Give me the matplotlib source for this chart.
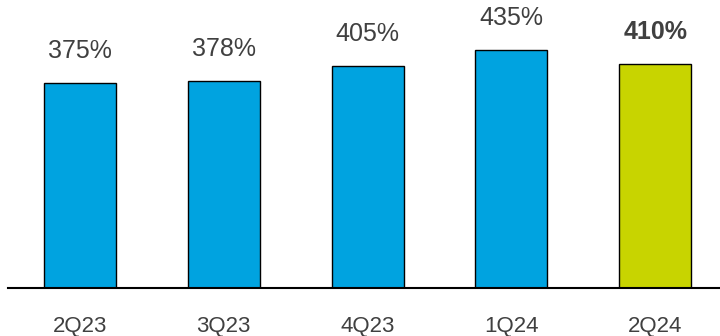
import matplotlib
matplotlib.use("Agg")
import matplotlib.pyplot as plt

quarters = ["2Q23", "3Q23", "4Q23", "1Q24", "2Q24"]
ratios = [375, 378, 405, 435, 410]
labels = ["375%", "378%", "405%", "435%", "410%"]
bar_colors = ["#00A3E0", "#00A3E0", "#00A3E0", "#00A3E0", "#C8D400"]

plt.rcParams["font.family"] = ["Liberation Sans", "DejaVu Sans"]

fig = plt.figure(figsize=(7.2, 3.36), dpi=100)
ax = fig.add_axes([8 / 720, 48 / 336, 712 / 720, 288 / 336])

x = list(range(len(quarters)))
ax.bar(x, ratios, width=0.5, color=bar_colors, edgecolor="black", linewidth=1.0, zorder=2)

for i, (v, lab) in enumerate(zip(ratios, labels)):
    bold = i == len(ratios) - 1
    ax.annotate(lab, (i, v), xytext=(0, 23), textcoords="offset points",
                ha="center", va="center", fontsize=18, color="#404040",
                fontweight="bold" if bold else "normal")

ax.set_xlim(-0.5, 4.45)
ax.set_ylim(0, 526)
ax.set_xticks(x)
ax.set_xticklabels(quarters, fontsize=16, color="#404040")
ax.tick_params(axis="x", length=0, pad=20)
ax.set_yticks([])
for side in ["top", "right", "left"]:
    ax.spines[side].set_visible(False)
ax.spines["bottom"].set_linewidth(1.5)
ax.spines["bottom"].set_color("black")
ax.patch.set_alpha(0)

fig.savefig("out.png", dpi=100)
